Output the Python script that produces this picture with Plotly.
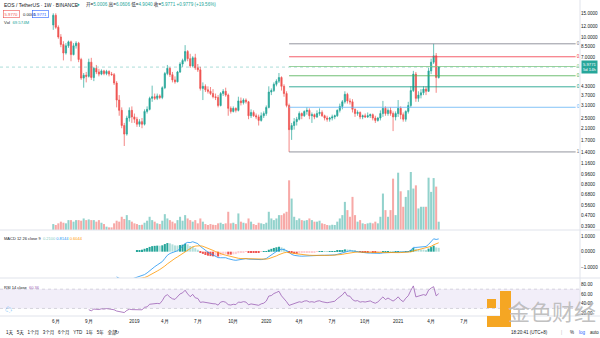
import math
import pandas as pd
import plotly.graph_objects as go

# ---------------- data (weekly EOS/USDT, Binance) ----------------
start_week = "2018-05-28"
opens = [12.3, 14.5, 11.8, 10.0, 8.8, 7.6, 8.6, 9.2, 7.4, 8.6,
         9.0, 6.8, 4.95, 5.2, 5.1, 6.5, 5.0, 5.85, 5.5, 5.3,
         5.6, 5.35, 5.55, 5.3, 5.25, 4.55, 3.4, 2.85, 2.2, 1.9,
         2.5, 2.85, 2.55, 2.45, 2.25, 2.35, 2.25, 2.8, 2.9, 3.5,
         3.6, 3.5, 3.65, 3.55, 4.2, 5.35, 5.85, 5.25, 4.8, 4.65,
         5.5, 6.3, 6.7, 7.8, 6.9, 6.1, 7.0, 5.9, 5.7, 4.15,
         4.3, 4.05, 3.95, 3.8, 3.6, 3.55, 3.1, 3.8, 3.95, 3.7,
         2.95, 2.8, 2.95, 2.85, 3.35, 3.25, 3.4, 3.3, 2.6, 2.75,
         2.6, 2.55, 2.4, 2.6, 2.7, 3.0, 3.9, 4.0, 4.45, 4.7,
         5.0, 4.3, 3.8, 3.1, 2.05, 2.2, 2.35, 2.45, 2.7, 2.6,
         2.8, 2.85, 2.6, 2.65, 2.55, 2.7, 2.75, 2.6, 2.5, 2.45,
         2.5, 2.55, 2.6, 2.85, 3.05, 3.3, 3.75, 3.35, 3.3, 2.9,
         2.7, 2.75, 2.55, 2.6, 2.55, 2.6, 2.65, 2.5, 2.4, 2.5,
         2.7, 2.95, 2.7, 2.85, 2.7, 2.55, 2.7, 2.95, 2.65, 2.45,
         2.8, 3.1, 4.0, 5.3, 3.5, 3.7, 3.85, 4.1, 3.95, 5.6,
         6.5, 7.25, 5.0006]
highs = [15.0, 15.0, 12.2, 10.5, 9.3, 9.0, 9.4, 9.4, 9.0, 9.3,
         9.2, 7.0, 5.4, 5.5, 6.9, 7.0, 6.0, 6.2, 5.8, 5.75,
         5.7, 5.7, 5.65, 5.5, 5.4, 4.7, 3.7, 3.0, 2.3, 2.6,
         3.0, 3.05, 2.7, 2.55, 2.45, 2.5, 2.9, 3.05, 3.6, 4.35,
         3.8, 3.8, 3.75, 4.3, 5.5, 6.2, 5.95, 5.5, 5.1, 5.6,
         6.5, 6.9, 8.7, 8.0, 7.5, 7.2, 7.5, 6.3, 6.0, 4.6,
         4.45, 4.3, 4.25, 4.1, 3.8, 3.7, 3.9, 4.1, 4.2, 3.8,
         3.05, 3.05, 3.0, 3.6, 3.55, 3.5, 3.5, 3.35, 2.9, 2.85,
         2.7, 2.65, 2.75, 2.8, 3.1, 4.3, 4.15, 4.6, 4.85, 5.4,
         5.1, 4.45, 3.95, 3.2, 2.3, 2.5, 2.55, 2.8, 2.75, 2.85,
         3.0, 2.95, 2.75, 2.7, 2.85, 2.95, 2.85, 2.65, 2.6, 2.55,
         2.65, 2.65, 2.9, 3.2, 3.4, 3.95, 3.85, 3.5, 3.45, 2.95,
         2.85, 2.8, 2.65, 2.7, 2.75, 2.7, 2.7, 2.6, 2.55, 2.85,
         3.35, 3.05, 2.95, 3.0, 2.8, 2.8, 3.4, 3.05, 2.75, 2.85,
         3.3, 4.3, 5.6, 5.5, 3.95, 4.1, 4.3, 4.3, 5.9, 6.9,
         8.9, 7.6, 6.0606]
lows = [11.3, 11.5, 9.7, 8.4, 6.7, 7.4, 8.3, 6.6, 7.3, 8.2,
        6.5, 4.8, 4.2, 4.6, 5.0, 4.8, 4.7, 5.3, 5.1, 5.2,
        5.2, 5.2, 5.1, 5.15, 4.4, 3.0, 2.6, 2.1, 1.55, 1.85,
        2.35, 2.3, 2.3, 2.15, 2.15, 2.1, 2.2, 2.7, 2.85, 3.3,
        3.4, 3.4, 3.45, 3.45, 4.1, 5.2, 5.05, 4.6, 4.5, 4.6,
        5.4, 6.0, 6.5, 6.6, 5.9, 6.0, 5.7, 5.5, 4.0, 3.4,
        3.9, 3.8, 3.7, 3.5, 3.4, 3.0, 3.05, 3.65, 3.6, 2.6,
        2.7, 2.75, 2.75, 2.8, 3.1, 3.15, 3.2, 2.45, 2.5, 2.55,
        2.45, 2.2, 2.35, 2.5, 2.6, 2.95, 3.7, 3.9, 4.3, 4.55,
        4.0, 3.6, 3.0, 1.4, 1.72, 2.05, 2.2, 2.4, 2.45, 2.55,
        2.65, 2.45, 2.3, 2.45, 2.5, 2.6, 2.55, 2.4, 2.35, 2.35,
        2.4, 2.45, 2.55, 2.75, 2.9, 3.2, 3.2, 3.15, 2.75, 2.55,
        2.6, 2.45, 2.45, 2.5, 2.5, 2.5, 2.4, 2.3, 2.35, 2.4,
        2.55, 2.6, 2.6, 2.6, 2.0, 2.4, 2.55, 2.45, 2.35, 2.35,
        2.7, 3.0, 3.9, 3.3, 3.3, 3.5, 3.7, 3.7, 3.9, 5.3,
        6.3, 3.85, 4.904]
closes = [14.5, 11.8, 10.0, 8.8, 7.6, 8.6, 9.2, 7.4, 8.6, 9.0,
          6.8, 4.95, 5.2, 5.1, 6.5, 5.0, 5.85, 5.5, 5.3, 5.6,
          5.35, 5.55, 5.3, 5.25, 4.55, 3.4, 2.85, 2.2, 1.9, 2.5,
          2.85, 2.55, 2.45, 2.25, 2.35, 2.25, 2.8, 2.9, 3.5, 3.6,
          3.5, 3.65, 3.55, 4.2, 5.35, 5.85, 5.25, 4.8, 4.65, 5.5,
          6.3, 6.7, 7.8, 6.9, 6.1, 7.0, 5.9, 5.7, 4.15, 4.3,
          4.05, 3.95, 3.8, 3.6, 3.55, 3.1, 3.8, 3.95, 3.7, 2.95,
          2.8, 2.95, 2.85, 3.35, 3.25, 3.4, 3.3, 2.6, 2.75, 2.6,
          2.55, 2.4, 2.6, 2.7, 3.0, 3.9, 4.0, 4.45, 4.7, 5.0,
          4.3, 3.8, 3.1, 2.05, 2.2, 2.35, 2.45, 2.7, 2.6, 2.8,
          2.85, 2.6, 2.65, 2.55, 2.7, 2.75, 2.6, 2.5, 2.45, 2.5,
          2.55, 2.6, 2.85, 3.05, 3.3, 3.75, 3.35, 3.3, 2.9, 2.7,
          2.75, 2.55, 2.6, 2.55, 2.6, 2.65, 2.5, 2.4, 2.5, 2.7,
          2.95, 2.7, 2.85, 2.7, 2.55, 2.7, 2.95, 2.65, 2.45, 2.8,
          3.1, 4.0, 5.3, 3.5, 3.7, 3.85, 4.1, 3.95, 5.6, 6.5,
          7.25, 4.9992, 5.9771]
volumes_m = [50, 42, 56, 70, 61, 56, 83, 83, 70, 83,
             83, 78, 97, 83, 89, 83, 83, 70, 83, 61,
             50, 28, 22, 22, 56, 78, 70, 111, 92, 125,
             83, 70, 56, 50, 42, 44, 61, 78, 111, 83,
             70, 56, 50, 78, 133, 97, 83, 70, 56, 83,
             111, 78, 125, 97, 83, 70, 83, 56, 97, 70,
             50, 42, 50, 44, 42, 56, 61, 50, 56, 153,
             56, 61, 50, 139, 70, 61, 56, 97, 70, 50,
             42, 61, 56, 50, 61, 153, 97, 83, 97, 125,
             125, 139, 153, 417, 264, 111, 83, 97, 83, 78,
             83, 97, 83, 70, 70, 78, 56, 50, 42, 39,
             44, 42, 70, 97, 125, 236, 167, 111, 278, 125,
             70, 83, 56, 50, 56, 61, 56, 70, 56, 111,
             306, 167, 111, 167, 431, 125, 481, 325, 195, 278,
             334, 487, 348, 375, 181, 195, 195, 195, 439, 320,
             436, 364, 69.57]

x_tick_dates = ["2018-06-04", "2018-09-03", "2019-01-07", "2019-04-01", "2019-07-01",
                "2019-10-07", "2020-01-06", "2020-04-06", "2020-07-06", "2020-10-05",
                "2021-01-04", "2021-04-05", "2021-07-05"]
x_tick_text = ["6月", "9月", "2019", "4月", "7月", "10月", "2020", "4月", "7月", "10月",
               "2021", "4月", "7月"]
price_ticks = [15, 12, 10, 8.5, 7, 4.3, 3.7, 3.1, 2.5, 2.1, 1.7, 1.4, 1.16, 0.96,
               0.8, 0.68, 0.56, 0.47, 0.39]
macd_ticks = [1, 0, -1]
macd_tick_text = ["1.0000", "0.0000", "\u22121.0000"]
rsi_ticks = [80, 60, 40, 20]

fib_low, fib_high = 1.4, 8.9
fib_levels = [0, 0.236, 0.382, 0.5, 0.618, 0.786, 1]
fib_colors = ["#787b86", "#f23645", "#81c784", "#4caf50", "#089981", "#64b5f6", "#787b86"]
fib_start_index = 93
fib_end_date = "2022-05-09"

last_price = 5.9771
x_range = ["2018-01-01", "2022-05-21"]

# ---------------- indicators ----------------
def ema_tv(vals, n):
    out = [None] * len(vals)
    alpha = 2.0 / (n + 1)
    cnt = 0
    start = None
    for i, v in enumerate(vals):
        if v is None:
            cnt = 0
            continue
        cnt += 1
        if cnt == n:
            start = i
            break
    out[start] = sum(vals[start - n + 1:start + 1]) / n
    for i in range(start + 1, len(vals)):
        out[i] = alpha * vals[i] + (1 - alpha) * out[i - 1]
    return out

ema12 = ema_tv(closes, 12)
ema26 = ema_tv(closes, 26)
macd = [(a - b) if (a is not None and b is not None) else None for a, b in zip(ema12, ema26)]
signal = ema_tv(macd, 9)
hist = [(m - s) if (m is not None and s is not None) else None for m, s in zip(macd, signal)]
hist_colors = []
for i, h in enumerate(hist):
    prev = hist[i - 1] if i > 0 else None
    if h is None:
        hist_colors.append("rgba(0,0,0,0)")
    elif h >= 0:
        hist_colors.append("#26a69a" if (prev is None or h > prev) else "#b2dfdb")
    else:
        hist_colors.append("#ffcdd2" if (prev is not None and h > prev) else "#ef5350")

n_rsi = 14
rsi = [None] * len(closes)
gains = [0.0] + [max(closes[i] - closes[i - 1], 0) for i in range(1, len(closes))]
losses = [0.0] + [max(closes[i - 1] - closes[i], 0) for i in range(1, len(closes))]
ag = sum(gains[1:n_rsi + 1]) / n_rsi
al = sum(losses[1:n_rsi + 1]) / n_rsi
rsi[n_rsi] = 100 - 100 / (1 + ag / al) if al > 0 else 100
for i in range(n_rsi + 1, len(closes)):
    ag = (ag * (n_rsi - 1) + gains[i]) / n_rsi
    al = (al * (n_rsi - 1) + losses[i]) / n_rsi
    rsi[i] = 100 - 100 / (1 + ag / al) if al > 0 else 100

dates = pd.date_range(start_week, periods=len(closes), freq="7D")
vol_colors = ["rgba(38,166,154,0.5)" if c >= o else "rgba(239,83,80,0.5)"
              for o, c in zip(opens, closes)]

# ---------------- figure ----------------
W, H = 600, 338
ML, MR, MT, MB = 0, 20, 0, 22
PW, PH = W - ML - MR, H - MT - MB
def PX(x):
    return x / PW
def PY(y):
    return 1 - y / PH

price_dom = [PY(230), 1]
macd_dom = [PY(278), PY(230)]
rsi_dom = [0, PY(278)]

fig = go.Figure()

fig.add_trace(go.Bar(x=dates, y=volumes_m, marker=dict(color=vol_colors, line=dict(width=0)),
                     yaxis="y4", hoverinfo="skip"))

fig.add_trace(go.Candlestick(
    x=dates, open=opens, high=highs, low=lows, close=closes,
    increasing=dict(line=dict(color="#26a69a", width=0.7), fillcolor="#26a69a"),
    decreasing=dict(line=dict(color="#ef5350", width=0.7), fillcolor="#ef5350"),
    whiskerwidth=0, yaxis="y"))

# current price line
fig.add_trace(go.Scatter(x=x_range, y=[last_price, last_price], mode="lines",
                         line=dict(color="rgba(38,166,154,0.55)", width=0.7, dash="dot"),
                         yaxis="y", hoverinfo="skip"))

# fibonacci retracement
for lvl, col in zip(fib_levels, fib_colors):
    p = fib_high - lvl * (fib_high - fib_low)
    fig.add_trace(go.Scatter(x=[dates[fib_start_index], fib_end_date], y=[p, p], mode="lines",
                             line=dict(color=col, width=0.8), yaxis="y", hoverinfo="skip"))
    fig.add_trace(go.Scatter(x=["2022-05-12"], y=[p], mode="text", text=[f"{lvl:g}"],
                             textposition="middle right", cliponaxis=True,
                             textfont=dict(size=4.5, color=col, family="Liberation Sans"),
                             yaxis="y", hoverinfo="skip"))

# MACD
fig.add_trace(go.Bar(x=dates, y=hist, marker=dict(color=hist_colors, line=dict(width=0)),
                     yaxis="y2", hoverinfo="skip"))
fig.add_trace(go.Scatter(x=dates, y=macd, mode="lines", line=dict(color="#2196f3", width=0.8),
                         yaxis="y2", hoverinfo="skip"))
fig.add_trace(go.Scatter(x=dates, y=signal, mode="lines", line=dict(color="#ff9800", width=0.8),
                         yaxis="y2", hoverinfo="skip"))

# RSI
fig.add_trace(go.Scatter(x=dates, y=rsi, mode="lines", line=dict(color="#9c5fb5", width=0.8),
                         yaxis="y3", hoverinfo="skip"))

tickfont = dict(size=4.6, color="#131722", family="Liberation Sans")
fig.update_layout(
    width=W, height=H, margin=dict(l=ML, r=MR, t=MT, b=MB),
    paper_bgcolor="white", plot_bgcolor="white", showlegend=False, barmode="overlay",
    xaxis=dict(type="date", range=x_range, anchor="y3", tickvals=x_tick_dates,
               ticktext=x_tick_text, tickfont=tickfont, showgrid=False, zeroline=False,
               showline=False, ticks="", rangeslider=dict(visible=False), ticklabelstandoff=1),
    yaxis=dict(domain=price_dom, type="log",
               range=[math.log10(math.exp((171.6 - 230) / 58.46)), math.log10(math.exp(171.6 / 58.46))],
               side="right", tickvals=price_ticks, ticktext=[f"{v:.4f}" for v in price_ticks],
               tickfont=tickfont, showgrid=False, zeroline=False, ticks="", anchor="x"),
    yaxis4=dict(overlaying="y", range=[0, 1931], visible=False),
    yaxis2=dict(domain=macd_dom, range=[-1.68, 1.383], side="right", tickvals=macd_ticks,
                ticktext=macd_tick_text, tickfont=tickfont, showgrid=False, zeroline=False,
                ticks="", anchor="x"),
    yaxis3=dict(domain=rsi_dom, range=[14.4, 93], side="right", tickvals=rsi_ticks,
                ticktext=[f"{v:.2f}" for v in rsi_ticks], tickfont=tickfont, showgrid=False,
                zeroline=False, ticks="", anchor="x"),
)

shapes = []
sep = "#e0e3eb"
shapes.append(dict(type="rect", xref="paper", yref="y3", x0=0, x1=1, y0=30, y1=70,
                   fillcolor="rgba(126,87,194,0.1)", line=dict(width=0), layer="below"))
for lv in (70, 30):
    shapes.append(dict(type="line", xref="paper", yref="y3", x0=0, x1=1, y0=lv, y1=lv,
                       line=dict(color="rgba(120,123,134,0.45)", width=0.6, dash="dot")))
for yy in (230, 278, 316):
    shapes.append(dict(type="line", xref="paper", yref="paper", x0=0, x1=W / PW,
                       y0=PY(yy), y1=PY(yy), line=dict(color=sep, width=1)))
shapes.append(dict(type="line", xref="paper", yref="paper", x0=1, x1=1, y0=PY(316), y1=1,
                   line=dict(color=sep, width=1)))
# watermark icon
orange = "#f5a623"
shapes.append(dict(type="rect", xref="paper", yref="paper", x0=PX(487), x1=PX(496),
                   y0=PY(308), y1=PY(299), fillcolor=orange, line=dict(width=0)))
shapes.append(dict(type="rect", xref="paper", yref="paper", x0=PX(500), x1=PX(511),
                   y0=PY(327), y1=PY(291), fillcolor=orange, line=dict(width=0)))
shapes.append(dict(type="rect", xref="paper", yref="paper", x0=PX(487), x1=PX(511),
                   y0=PY(327), y1=PY(316), fillcolor=orange, line=dict(width=0)))
fig.update_layout(shapes=shapes)

G = "#26a69a"
D = "#131722"
def ann(x, y, text, size=4.6, color=D, **kw):
    d = dict(xref="paper", yref="paper", x=PX(x), y=PY(y), text=text, showarrow=False,
             xanchor="left", yanchor="middle", font=dict(size=size, color=color,
             family="Liberation Sans, Noto Sans CJK SC"))
    d.update(kw)
    fig.add_annotation(**d)

ann(1.5, 5, "EOS / TetherUS · 1W · BINANCE", size=5)
ann(75, 5, "●", size=4.5, color=G)
ann(84, 5, f"开=<span style='color:{G}'>5.0006</span> 高=<span style='color:{G}'>6.0606</span> "
           f"低=<span style='color:{G}'>4.9040</span> 收=<span style='color:{G}'>5.9771</span> "
           f"<span style='color:{G}'>+0.9779 (+19.56%)</span>", size=4.6)
ann(2.5, 14, "5.9770", size=4.2, color="#ef5350", bordercolor="#ef5350", borderwidth=0.6, borderpad=1)
ann(21, 14, "0.0001", size=4.2, color=D)
ann(32, 14, "5.9771", size=4.2, color="#2962ff", bordercolor="#2962ff", borderwidth=0.6, borderpad=1)
ann(1.5, 23, f"Vol  <span style='color:{G}'>69.574M</span>", size=4.3)
ann(1.5, 238, "MACD 12 26 close 9  <span style='color:#80cbc4'>0.2100</span> "
              "<span style='color:#2196f3'>0.8144</span> <span style='color:#ff9800'>0.6044</span>",
    size=4.0)
ann(1.5, 287, "RSI 14 close  <span style='color:#9c5fb5'>60.36</span>", size=4.0)
ann(3, 309, "☁", size=7, color="#2196f3")

# last price tag
fig.add_annotation(xref="paper", yref="y", x=1, y=math.log10(last_price),
                   text="5.9771<br>5d 14h", showarrow=False, xanchor="left", yanchor="middle",
                   xshift=0.5, bgcolor=G, borderpad=1, align="left",
                   font=dict(size=4.2, color="white", family="Liberation Sans"))

# bottom toolbar
ann(4, 332, "1天   5天   1个月   3个月   6个月   YTD   1年   5年   全部", size=4.5)
ann(108, 332, "|", size=4.5, color="#b2b5be")
ann(113, 332, "↻", size=5, color=D)
ann(509, 332, "18:20:41 (UTC+8)", size=4.5)
ann(559, 332, "|", size=4.5, color="#b2b5be")
ann(568, 332, "%", size=4.5)
ann(577, 332, "log", size=4.5, color="#2962ff")
ann(588, 332, "auto", size=4.5)

# watermark
fig.add_annotation(xref="paper", yref="paper", x=PX(552), y=PY(310), text="金色财经",
                   showarrow=False, xanchor="center", yanchor="middle",
                   font=dict(size=22, color="rgba(185,185,185,0.9)", family="Noto Sans CJK SC"))

fig.write_html("out.html")
